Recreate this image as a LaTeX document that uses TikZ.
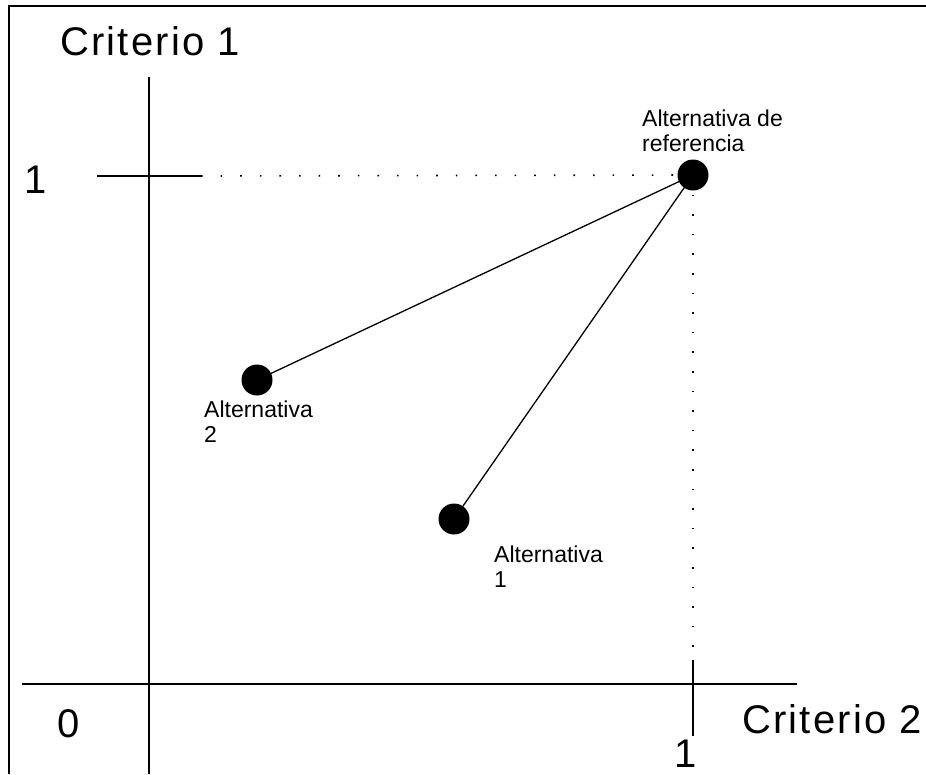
\documentclass[tikz,border=0pt]{standalone}
\usepackage{fontspec}
\setmainfont{Liberation Sans}
\newfontfamily\bigfamily[LetterSpace=5.5]{Liberation Sans}
\newcommand{\bigtxt}{\bigfamily\fontsize{40}{44}\selectfont}
\newcommand{\smalltxt}{\fontsize{23}{24.5}\selectfont}

\begin{document}
\begin{tikzpicture}[x=1pt,y=-1pt,
    axis/.style={line width=1.6pt},
    dotline/.style={line width=1.6pt,dash pattern=on 1.6pt off 18pt},
    alt/.style={circle,fill=black,minimum size=31pt,inner sep=0pt},
    lbl/.style={align=left,anchor=north west,inner sep=0pt,font=\smalltxt}]
    \useasboundingbox (0,0) rectangle (926,774);
    % frame
    \draw[line width=2.6pt] (9,774) -- (9,6) -- (926,6);
    % axes
    \coordinate (o) at (149,684);
    \draw[axis] (149,77) -- (149,774);
    \draw[axis] (22,684) -- (797,684);
    \draw[axis] (97,176) -- (201,176);
    \draw[axis] (693,660) -- (693,736);
    % points
    \node[alt] (ref)  at (693,175) {};
    \node[alt] (alt2) at (257,380) {};
    \node[alt] (alt1) at (454,519) {};
    \draw[dotline] (201,176) -- (ref.center);
    \draw[dotline] (ref.center) -- (693,660);
    \draw[line width=1.3pt] (ref.center) -- (alt2.center);
    \draw[line width=1.3pt] (ref.center) -- (alt1.center);
    % labels
    \node[anchor=base west,inner sep=0pt,font=\bigtxt] (c1) at (60,55) {Criterio 1};
    \node[anchor=base west,inner sep=0pt,font=\bigtxt] (c2) at (742,733) {Criterio 2};
    \node[anchor=base,inner sep=0pt,font=\bigtxt] (one1) at (36,193) {1};
    \node[anchor=base,inner sep=0pt,font=\bigtxt] (zero) at (69,737) {0};
    \node[anchor=base,inner sep=0pt,font=\bigtxt] (one2) at (686,767) {1};
    \node[lbl] (lref) at (642,110) {Alternativa de\\referencia};
    \node[lbl] (l2) at (204,401) {Alternativa\\2};
    \node[lbl] (l1) at (494,546) {Alternativa\\1};
\end{tikzpicture}
\end{document}
